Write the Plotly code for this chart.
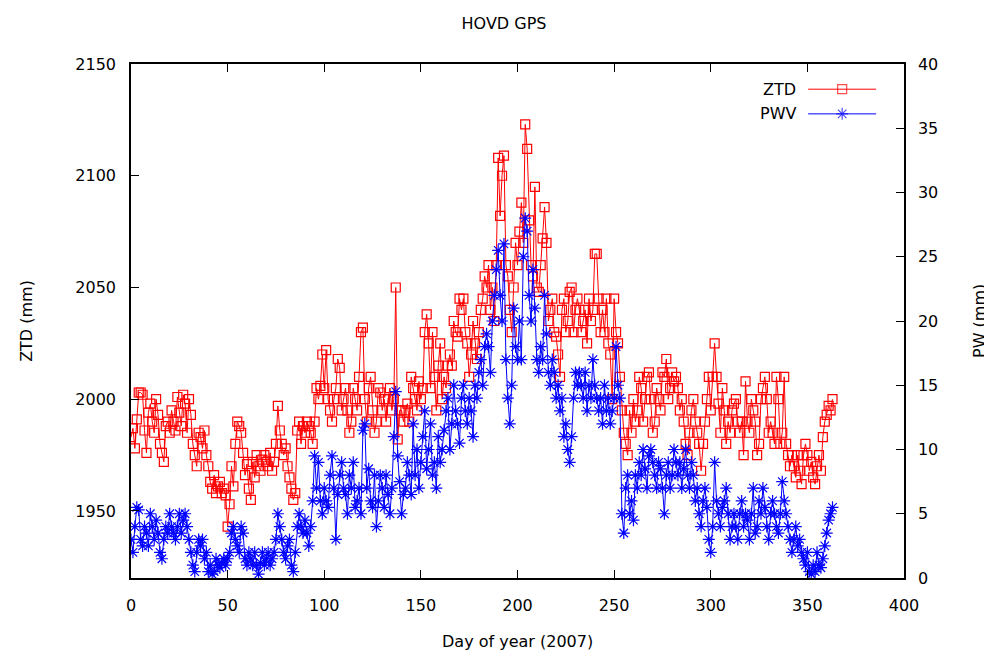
import plotly.graph_objects as go

# ZTD (mm), one value per day starting at day 0
ztd = [
    1983, 1987, 1978, 1991, 2003, 2003, 2002, 1986, 1976, 1994,
    1998, 1990, 1985, 2000, 1993, 1980, 1976, 1972, 1988, 1990,
    1985, 1995, 1990, 1986, 2001, 1994, 1988, 2002, 1998, 1985,
    2000, 1993, 1980, 1975, 1970, 1985, 1983, 1978, 1986, 1975,
    1970, 1963, 1960, 1966, 1958, 1961, 1963, 1958, 1960, 1957,
    1943, 1953, 1970, 1961, 1980, 1990, 1988, 1985, 1976, 1966,
    1971, 1960, 1955, 1972, 1965, 1975, 1970, 1968, 1973, 1975,
    1972, 1970, 1976, 1968, 1972, 1980, 1997, 1986, 1980, 1975,
    1978, 1970, 1965, 1960, 1955, 1958, 1986, 1990, 1980, 1988,
    1985, 1990, 1988, 1985, 1980, 1990, 2005, 2000, 2006, 2020,
    2005, 2022, 2000, 1995, 1990, 2000, 2005, 2018, 2014, 1995,
    2000, 2005, 1995, 1985, 1990, 2005, 2000, 1995, 2010, 2030,
    2032, 2000, 1990, 2005, 2010, 1995, 1985, 1990, 2005, 2003,
    1995, 2000, 1990, 2000, 2005, 1995, 2000, 2050, 1982, 1995,
    1995, 1990, 1995, 1998, 1990, 2010, 2005, 2000, 1995, 2008,
    2000, 2005, 2030, 2038, 2025, 2005, 2030, 2010, 1995, 2015,
    2025, 2000, 2010, 2005, 2015, 2020, 2015, 2035, 2030, 2028,
    2045, 2040, 2045, 2030, 2025, 2010, 2020, 2035, 2025, 2018,
    2030, 2040, 2045, 2055, 2050, 2060, 2040, 2050, 2035, 2060,
    2108, 2082, 2100, 2109, 2060, 2055, 2040, 2030, 2050, 2070,
    2060, 2075, 2088, 2070, 2123, 2112, 2080, 2060, 2055, 2095,
    2050, 2048, 2060, 2072, 2086, 2070, 2035, 2040, 2045, 2030,
    2028, 2020, 2010, 2040, 2045, 2030, 2035, 2048, 2050, 2030,
    2040, 2045, 2040, 2030, 2035, 2040, 2025, 2045, 2035, 2040,
    2065, 2065, 2045, 2030, 2040, 2030, 2045, 2025, 2020, 2000,
    2045, 2030, 2025, 2010, 1995, 1985, 1980, 1975, 1995, 1985,
    2000, 1990, 1995, 2010, 2005, 1990, 2000, 2010, 2012, 2000,
    1985, 1990, 2005, 2000, 1995, 2012, 2010, 2018, 2000, 2005,
    2012, 2008, 2010, 2005, 1995, 2000, 1990, 1980, 1975, 1985,
    1995, 2000, 1990, 1985, 1980, 1968, 1980, 1990, 2000, 2010,
    1995, 2010, 2025, 2010, 1998, 1985, 2005, 1995, 1980, 1990,
    1985, 1995, 1998, 2000, 1990, 1985, 1990, 1975, 2008, 1990,
    1985, 2000, 1995, 1990, 1975, 1980, 2000, 2005, 2010, 2000,
    1985, 1990, 1985, 1980, 2010, 2000, 1980, 1985, 2010, 1980,
    1975, 1970, 1975, 1970, 1965, 1975, 1968, 1962, 1975, 1980,
    1975, 1968, 1972, 1965, 1962, 1970, 1975, 1968, 1983, 1990,
    1993, 1997, 1995, 2000,
]

# Precipitable water vapour (mm)
pwv = [
    3, 2, 4, 5.5, 5.3, 3, 2.5, 4, 3.5, 2.5,
    5, 4, 3, 4.5, 3.5, 2, 1.5, 3, 4, 3.5,
    5, 4, 3.5, 3, 4, 5, 3.5, 4.5, 5, 4,
    3, 2, 1, 0.5, 2, 3, 2.5, 3, 1.5, 2,
    0.5, 1, 0.3, 0.5, 1.5, 1, 0.8, 1.2, 1.5, 1,
    1.5, 2, 3.5, 4, 3, 2.5, 2, 4, 3.5, 1.5,
    1, 2, 1.5, 1, 2, 1, 0.3, 1.2, 2, 1,
    1.5, 2, 1, 1.5, 2, 3, 5, 4, 3, 2,
    1.5, 2.5, 3, 1, 0.5, 2, 4, 5, 4, 3.5,
    4.5, 3.5, 2.5, 4, 6, 9.5, 7, 9, 6, 5,
    7, 6, 5.5, 8, 9.5, 7, 3, 6.5, 8, 9,
    7, 6.5, 5, 8, 7, 9, 5.5, 6, 7, 5,
    11.5, 12, 7, 8.5, 6, 5.5, 8, 4, 6, 8,
    7, 5.5, 8, 6.5, 5, 7, 11, 14.5, 9.5, 7.5,
    5, 6.5, 7, 9, 8, 6.5, 12, 8, 10, 7,
    9, 11, 13, 8.5, 10, 12, 8, 9, 7, 11,
    9, 10, 11.5, 13, 14, 10, 12, 15, 13, 12,
    10.5, 14, 15, 13, 12, 14, 13, 11, 15, 14,
    16, 17, 15, 18, 19, 18, 16, 20, 22, 24,
    25.5, 22, 20, 26, 17, 14, 12, 15, 21, 18,
    17, 20, 17, 25, 28, 27, 22, 20, 24, 21,
    17, 16, 18, 17, 22, 19, 16, 15, 17, 16,
    14, 15, 13, 14, 11, 12, 10, 9, 11, 14,
    16, 15, 16, 15, 14, 16, 13, 15, 14, 17,
    15, 14, 13, 14, 12, 15, 13, 14, 12, 13,
    14, 18, 15, 14, 5, 3.5, 7, 8, 5, 6,
    4.5, 8, 7, 9, 8, 10, 8.5, 7, 9.5, 10,
    9, 8, 7, 9, 8.5, 7, 5, 8, 9, 7,
    8, 10, 9, 8, 9, 7, 8.5, 10, 8, 7,
    9, 8, 6, 7, 5, 4, 6, 7, 5.5, 3,
    2, 4, 9, 6, 5, 4, 5.5, 6, 7, 5,
    3, 4, 5, 4, 3, 5, 6, 4, 5, 4.5,
    3, 5, 7, 3.5, 4, 6, 5, 7, 5.5, 4,
    3, 5, 6, 5, 4, 3.5, 5, 7.5, 6, 5,
    4, 3, 2, 3, 4, 2.5, 3, 2, 1.5, 1,
    2, 0.5, 0.3, 1, 0.5, 2, 1, 0.8, 1.5, 2.5,
    3.5, 4.5, 5, 5.5,
]

days = list(range(len(ztd)))
days_p = list(range(len(pwv)))

x_ticks = [0, 50, 100, 150, 200, 250, 300, 350, 400]
ztd_ticks = [1950, 2000, 2050, 2100, 2150]
pw_ticks = [0, 5, 10, 15, 20, 25, 30, 35, 40]

FONT = "DejaVu Sans"
RED = "#ff0000"
BLUE = "#0000ff"

fig = go.Figure()

fig.add_trace(go.Scatter(
    x=days, y=ztd, mode="lines+markers", name="ZTD",
    line=dict(color=RED, width=1),
    marker=dict(symbol="square-open", size=9, color=RED, line=dict(width=1.2, color=RED)),
    showlegend=False,
))
fig.add_trace(go.Scatter(
    x=days_p, y=pwv, mode="lines+markers", name="PWV", yaxis="y2",
    line=dict(color=BLUE, width=1),
    marker=dict(symbol="asterisk-open", size=10, color=BLUE, line=dict(width=1.2, color=BLUE)),
    showlegend=False,
))

# gnuplot-style legend keys (text on the left, sample on the right)
legend_rows = [("ZTD", RED, "square-open", 9, 0.951), ("PWV", BLUE, "asterisk-open", 10, 0.903)]
for name, col, sym, sz, yy in legend_rows:
    fig.add_trace(go.Scatter(
        x=[0.876, 0.920, 0.964], y=[yy, yy, yy], xaxis="x3", yaxis="y3",
        mode="lines+markers", line=dict(color=col, width=1),
        marker=dict(symbol=sym, size=[0, sz, 0], color=col, line=dict(width=1.2, color=col)),
        showlegend=False, hoverinfo="skip",
    ))
    fig.add_annotation(x=0.863, y=yy, xref="paper", yref="paper", text=name,
                       showarrow=False, xanchor="right", yanchor="middle",
                       font=dict(family=FONT, size=16, color="black"))

axis_common = dict(
    showgrid=False, zeroline=False, showline=True, linecolor="black", linewidth=1.5,
    ticks="inside", ticklen=8, tickcolor="black", tickwidth=1,
    tickfont=dict(family=FONT, size=16, color="black"),
)

fig.update_layout(
    width=992, height=654,
    paper_bgcolor="white", plot_bgcolor="white",
    margin=dict(l=123, r=96, t=56, b=84),
    title=dict(text="HOVD GPS", x=0.5, xanchor="center", y=0.977, yanchor="middle",
               font=dict(family=FONT, size=16, color="black")),
    xaxis=dict(range=[0, 400], tickvals=x_ticks, mirror="ticks", ticklabelstandoff=12, **axis_common),
    yaxis=dict(range=[1920, 2150], tickvals=ztd_ticks, ticklabelstandoff=10, **axis_common),
    yaxis2=dict(range=[0, 40], tickvals=pw_ticks, overlaying="y", side="right",
                ticklabelstandoff=9, **axis_common),
    xaxis3=dict(range=[0, 1], domain=[0, 1], overlaying="x", visible=False, fixedrange=True),
    yaxis3=dict(range=[0, 1], domain=[0, 1], overlaying="y", visible=False, fixedrange=True, anchor="x3"),
    showlegend=False,
)
fig.data[2].update(xaxis="x3", yaxis="y3")
fig.data[3].update(xaxis="x3", yaxis="y3")

fig.add_annotation(x=0.5, y=-0.1245, xref="paper", yref="paper", text="Day of year (2007)",
                   showarrow=False, xanchor="center", yanchor="middle",
                   font=dict(family=FONT, size=16, color="black"))
fig.add_annotation(x=-0.136, y=0.5, xref="paper", yref="paper", text="ZTD (mm)", textangle=-90,
                   showarrow=False, xanchor="center", yanchor="middle",
                   font=dict(family=FONT, size=16, color="black"))
fig.add_annotation(x=1.097, y=0.5, xref="paper", yref="paper", text="PW (mm)", textangle=-90,
                   showarrow=False, xanchor="center", yanchor="middle",
                   font=dict(family=FONT, size=16, color="black"))

fig.write_html("out.html")
